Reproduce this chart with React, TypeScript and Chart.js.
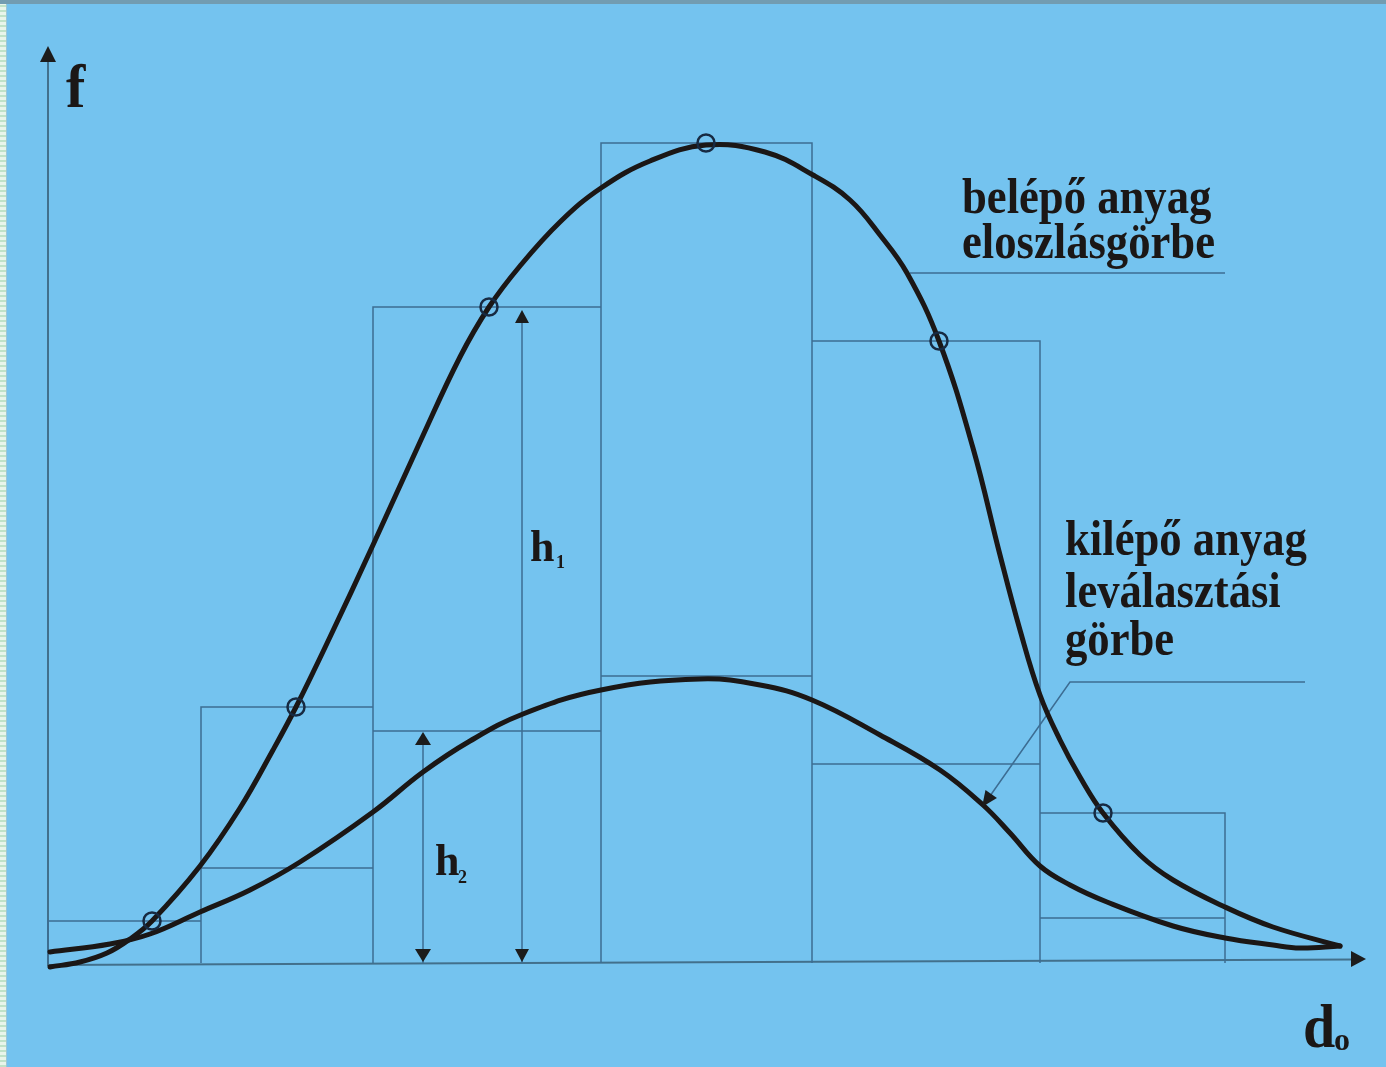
import React, { useEffect, useRef } from 'react';
import { Chart, registerables } from 'chart.js';

Chart.register(...registerables);

// ---------- data (units: d_o along x, f along y) ----------
const binEdges = [0, 15.3, 32.5, 55.3, 76.4, 99.2, 117.7];
const inletHist = [4.2, 25.6, 65.6, 82.0, 62.2, 15.0];
const outletHist = [null, 9.5, 23.2, 28.7, 19.9, 4.5];
const markerX = [10.4, 24.8, 44.1, 65.8, 89.1, 105.5];

const inletCurveX = [0.2, 3.2, 5.9, 8.2, 10.4, 15.2, 19.2, 22.5, 24.8, 28.2, 32.5, 37.2, 41.2, 44.1, 47.2, 51.2, 55.3, 60.2, 65.8, 71.7, 76.5, 80.2, 83.2, 85.9, 89.1, 92.5, 95.2, 97.2, 99.2, 101.2, 103.2, 105.5, 109.2, 112.5, 117.7, 122.5, 129.2];
const inletCurveY = [-0.4, 0.1, 1.0, 2.4, 4.2, 9.7, 15.5, 21.3, 25.6, 32.6, 41.8, 52.1, 60.6, 65.6, 69.7, 74.1, 77.5, 80.2, 81.8, 81.1, 78.8, 76.3, 72.8, 69.0, 62.2, 51.5, 40.8, 33.3, 26.8, 22.3, 18.6, 15.0, 10.8, 8.3, 5.6, 3.6, 1.7];

const outletCurveX = [0.2, 6.2, 10.2, 15.2, 20.2, 25.2, 32.5, 37.5, 42.2, 47.5, 55.3, 65.2, 71.2, 76.4, 83.2, 89.2, 93.5, 96.2, 99.2, 102.2, 105.9, 112.5, 117.7, 122.5, 125.2, 129.2];
const outletCurveY = [1.1, 1.9, 2.9, 5.1, 7.3, 10.1, 15.1, 19.1, 22.2, 24.9, 27.3, 28.4, 27.8, 26.3, 22.8, 19.3, 15.8, 13.0, 9.7, 7.8, 6.1, 3.7, 2.5, 1.8, 1.5, 1.7];

const h1X = 47.4;
const h2X = 37.5;
const leader1X = [86.2, 117.7];
const leader1Y = [69.0, 69.0];
const leader2X = [125.7, 102.2, 93.4];
const leader2Y = [28.1, 28.1, 15.6];

const inletLabel = ['belépő anyag', 'eloszlásgörbe'];
const outletLabel = ['kilépő anyag', 'leválasztási', 'görbe'];

// ---------- layout ----------
const W = 1386;
const H = 1067;
const X_MIN = 0, X_MAX = 133.8, Y_MIN = -2, Y_MAX = 96.3;

const BG = '#74C3EF';
const THIN = '#3C6D93';
const AXIS = '#42708C';
const INK = '#1b1716';
const MARK = '#172a42';
const SERIF = '"Liberation Serif", "Times New Roman", serif';

const pts = (xs: number[], ys: (number | null)[]) => xs.map((x, i) => ({ x, y: ys[i] }));

function histPath(tops: (number | null)[]) {
  const out: { x: number; y: number | null }[] = [];
  tops.forEach((t, i) => {
    if (t == null) return;
    const a = binEdges[i], b = binEdges[i + 1];
    out.push({ x: a, y: 0 }, { x: a, y: t }, { x: b, y: t }, { x: b, y: 0 }, { x: b, y: null });
  });
  return out;
}

function innerPath(tops: (number | null)[]) {
  const out: { x: number; y: number | null }[] = [];
  tops.forEach((t, i) => {
    if (t == null) return;
    out.push({ x: binEdges[i], y: t }, { x: binEdges[i + 1], y: t }, { x: binEdges[i + 1], y: null });
  });
  return out;
}

function tri(ctx: CanvasRenderingContext2D, tx: number, ty: number, dx: number, dy: number, len: number, half: number) {
  const n = Math.hypot(dx, dy);
  const ux = dx / n, uy = dy / n;
  const bx = tx - ux * len, by = ty - uy * len;
  ctx.beginPath();
  ctx.moveTo(tx, ty);
  ctx.lineTo(bx - uy * half, by + ux * half);
  ctx.lineTo(bx + uy * half, by - ux * half);
  ctx.closePath();
  ctx.fill();
}

function txt(ctx: CanvasRenderingContext2D, s: string, x: number, y: number, size: number, sx = 1, sy = 1) {
  ctx.save();
  ctx.font = `bold ${size}px ${SERIF}`;
  ctx.textBaseline = 'alphabetic';
  ctx.textAlign = 'left';
  ctx.translate(x, y);
  ctx.scale(sx, sy);
  ctx.fillText(s, 0, 0);
  ctx.restore();
}

const decorPlugin = {
  id: 'decor',
  beforeDraw(chart: any) {
    const ctx: CanvasRenderingContext2D = chart.ctx;
    ctx.save();
    ctx.fillStyle = BG;
    ctx.fillRect(0, 0, W, H);
    ctx.fillStyle = '#e8f5ea';
    ctx.fillRect(0, 0, 6, H);
    ctx.fillStyle = '#bfe2c8';
    for (let y = 0; y < H; y += 5) ctx.fillRect(0, y, 6, 2);
    ctx.fillStyle = '#9cc6d6';
    ctx.fillRect(6, 0, 1, H);
    ctx.fillStyle = '#729cb1';
    ctx.fillRect(0, 0, W, 4);
    ctx.restore();
  },
  beforeDatasetsDraw(chart: any) {
    const ctx: CanvasRenderingContext2D = chart.ctx;
    const sx = chart.scales.x, sy = chart.scales.y;
    ctx.save();
    ctx.strokeStyle = AXIS;
    ctx.fillStyle = '#1c1c1c';
    ctx.lineWidth = 2;
    const x0 = sx.getPixelForValue(0);
    ctx.beginPath();
    ctx.moveTo(x0, sy.getPixelForValue(-0.3));
    ctx.lineTo(x0, sy.getPixelForValue(90.2));
    ctx.stroke();
    tri(ctx, x0, sy.getPixelForValue(91.7), 0, -1, 16, 8);
    ctx.beginPath();
    ctx.moveTo(x0, sy.getPixelForValue(-0.2));
    ctx.lineTo(sx.getPixelForValue(130.6), sy.getPixelForValue(0.35));
    ctx.stroke();
    tri(ctx, sx.getPixelForValue(131.8), sy.getPixelForValue(0.4), 1, 0, 15, 8);
    ctx.restore();
  },
  afterDatasetsDraw(chart: any) {
    const ctx: CanvasRenderingContext2D = chart.ctx;
    const sx = chart.scales.x, sy = chart.scales.y;
    const X = (v: number) => sx.getPixelForValue(v);
    const Y = (v: number) => sy.getPixelForValue(v);
    ctx.save();
    ctx.fillStyle = '#1c1c1c';
    tri(ctx, X(h1X), Y(inletHist[2] - 0.3), 0, -1, 13, 7);
    tri(ctx, X(h1X), Y(0.1), 0, 1, 13, 7);
    tri(ctx, X(h2X), Y((outletHist[2] as number) - 0.1), 0, -1, 13, 8);
    tri(ctx, X(h2X), Y(0.1), 0, 1, 13, 8);
    const n = leader2X.length;
    tri(ctx, X(leader2X[n - 1]), Y(leader2Y[n - 1]),
      X(leader2X[n - 1]) - X(leader2X[n - 2]), Y(leader2Y[n - 1]) - Y(leader2Y[n - 2]), 16, 7);

    ctx.fillStyle = INK;
    txt(ctx, 'f', X(1.8), Y(85.6), 58, 1, 1.05);
    txt(ctx, 'd', X(125.5), Y(-8.4), 58, 1, 1.05);
    txt(ctx, 'o', X(128.6), Y(-8.7), 32);
    txt(ctx, 'h', X(48.2), Y(40.2), 44);
    txt(ctx, '1', X(50.8), Y(39.5), 18);
    txt(ctx, 'h', X(38.7), Y(8.8), 44);
    txt(ctx, '2', X(41.0), Y(8.0), 18);
    txt(ctx, inletLabel[0], X(91.4), Y(75.0), 47, 0.95, 1.06);
    txt(ctx, inletLabel[1], X(91.4), Y(70.5), 47, 0.95, 1.06);
    txt(ctx, outletLabel[0], X(101.7), Y(40.8), 47, 0.95, 1.06);
    txt(ctx, outletLabel[1], X(101.7), Y(35.6), 47, 0.95, 1.06);
    txt(ctx, outletLabel[2], X(101.7), Y(30.8), 47, 0.95, 1.06);
    ctx.restore();
  },
};

export default function App() {
  const ref = useRef<HTMLCanvasElement | null>(null);

  useEffect(() => {
    if (!ref.current) return;
    const thin = {
      showLine: true, borderColor: THIN, borderWidth: 1.5, pointRadius: 0, tension: 0,
      spanGaps: false, clip: false as const,
    };
    const curve = {
      showLine: true, borderColor: INK, borderWidth: 5, pointRadius: 0, tension: 0.4,
      clip: false as const, order: 2, borderCapStyle: 'round' as const, borderJoinStyle: 'round' as const,
    };
    const chart = new Chart(ref.current, {
      type: 'scatter',
      data: {
        datasets: [
          { ...thin, label: 'belépő hisztogram', data: histPath(inletHist) as any, order: 5 },
          { ...thin, label: 'kilépő hisztogram', data: innerPath(outletHist) as any, order: 5 },
          { ...thin, label: 'h1', data: [{ x: h1X, y: 0 }, { x: h1X, y: inletHist[2] - 1 }], order: 4 },
          { ...thin, label: 'h2', data: [{ x: h2X, y: 0 }, { x: h2X, y: (outletHist[2] as number) - 1 }], order: 4 },
          { ...thin, label: 'leader1', data: pts(leader1X, leader1Y) as any, order: 4 },
          { ...thin, label: 'leader2', data: pts(leader2X.slice(0, 2).concat([leader2X[2] + 0.8]), leader2Y.slice(0, 2).concat([leader2Y[2] + 1.1])) as any, order: 4 },
          { ...curve, label: 'belépő anyag eloszlásgörbe', data: pts(inletCurveX, inletCurveY) as any },
          { ...curve, label: 'kilépő anyag leválasztási görbe', data: pts(outletCurveX, outletCurveY) as any },
          {
            label: 'pontok', data: markerX.map((x, i) => ({ x, y: inletHist[i] })),
            showLine: false, pointRadius: 8.5, pointBorderWidth: 2.5, pointStyle: 'circle',
            pointBorderColor: MARK, pointBackgroundColor: 'rgba(0,0,0,0)', clip: false as const, order: 1,
          },
        ],
      },
      options: {
        animation: false,
        responsive: false,
        events: [],
        layout: { autoPadding: false, padding: { left: 48, right: 0, top: 0, bottom: 84 } },
        plugins: { legend: { display: false }, tooltip: { enabled: false }, title: { display: false } },
        scales: {
          x: { type: 'linear', min: X_MIN, max: X_MAX, display: false },
          y: { type: 'linear', min: Y_MIN, max: Y_MAX, display: false },
        },
      },
      plugins: [decorPlugin],
    });
    return () => chart.destroy();
  }, []);

  return (
    <div style={{ position: 'fixed', left: 0, top: 0, width: W, height: H }}>
      <canvas ref={ref} width={W} height={H} style={{ display: 'block', width: W, height: H }} />
    </div>
  );
}
